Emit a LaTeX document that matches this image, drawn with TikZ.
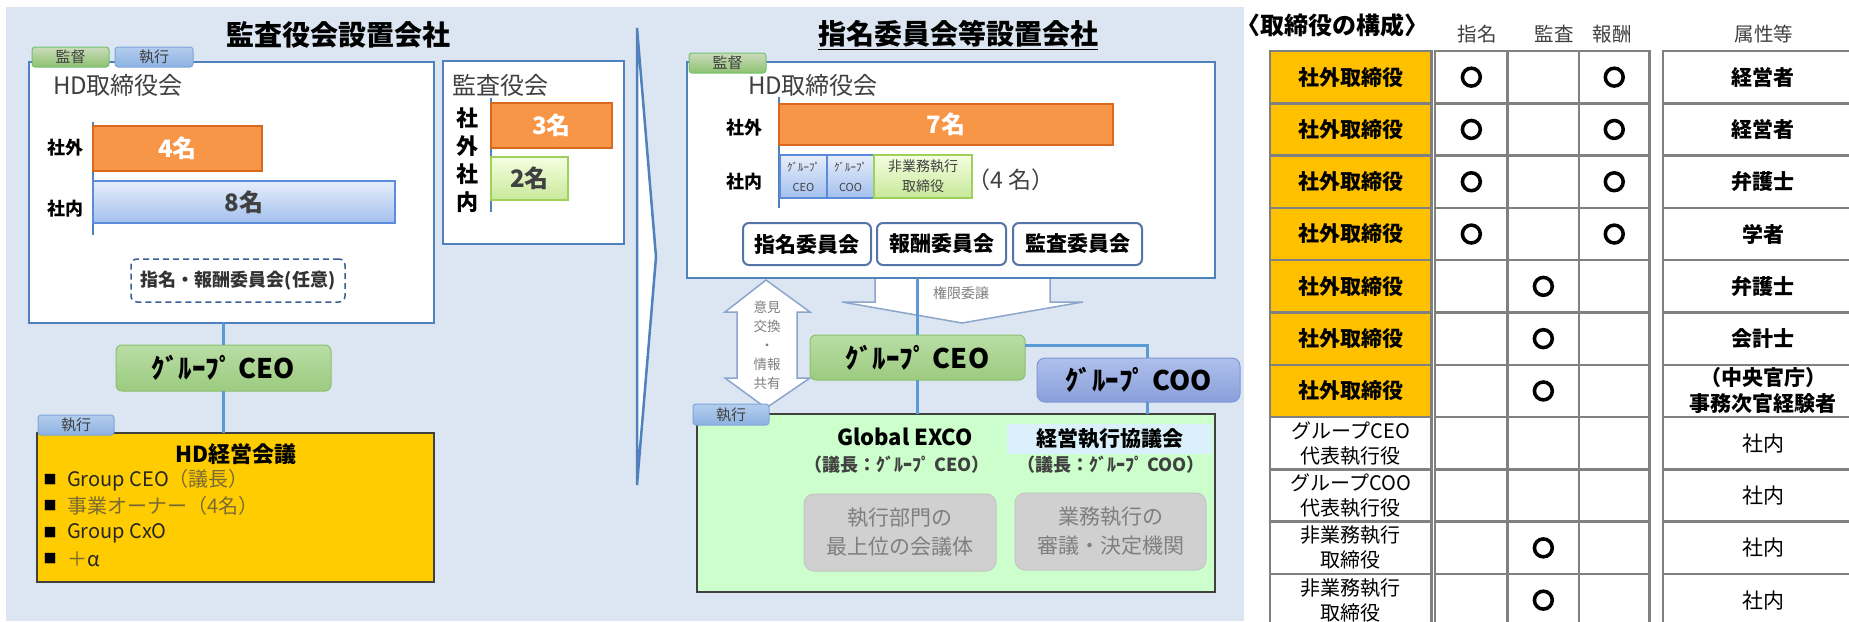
\documentclass[tikz,border=0pt]{standalone}
\usepackage{fontspec}
\setmainfont{Noto Sans CJK JP}
\usetikzlibrary{calc}
\definecolor{bgc}{HTML}{DCE6F2}
\definecolor{bblue}{HTML}{4F81BD}
\definecolor{lblue}{HTML}{5B9BD5}
\definecolor{dgray}{HTML}{404040}
\definecolor{mgray}{HTML}{7F7F7F}
\definecolor{tgray}{HTML}{808080}
\definecolor{orng}{HTML}{F79646}
\definecolor{orngd}{HTML}{D9691F}
\definecolor{kyel}{HTML}{FFCC00}
\definecolor{tyel}{HTML}{FFC000}
\definecolor{exg}{HTML}{CCFFCC}
\definecolor{hil}{HTML}{DAF1FB}
\definecolor{gboxc}{HTML}{D0D0D0}
\definecolor{gboxd}{HTML}{C4C4C4}
\definecolor{olivec}{HTML}{7A6A33}
\definecolor{arrc}{HTML}{8CA5CC}
\definecolor{cmtec}{HTML}{5473A8}
\definecolor{dashc}{HTML}{3A5F95}
\newcommand\fsz[2]{\fontsize{#1pt}{#2pt}\selectfont}
\newfontfamily\marufont[FakeBold=12]{Noto Sans CJK JP}
\newcommand\maru{{\fsz{21}{21}\marufont\bfseries ○}}
\begin{document}
\begin{tikzpicture}[x=1pt,y=-1pt,
  every node/.style={inner sep=0pt,outer sep=0pt},
  panel/.style={draw=bblue,line width=2.5pt,fill=white},
  gtab/.style={draw=green!40!gray!80,top color=green!30!lime!30!gray!40!white,bottom color={rgb,255:red,140;green,194;blue,111},rounded corners=3pt,line width=1pt,font=\fsz{15}{16},text=dgray},
  btab/.style={draw={rgb,255:red,125;green,165;blue,218},top color={rgb,255:red,180;green,205;blue,238},bottom color={rgb,255:red,140;green,178;blue,225},rounded corners=3pt,line width=1pt,font=\fsz{15}{16},text=dgray},
  conn/.style={draw=lblue,line width=3pt},
  axisline/.style={draw=bblue,line width=1.5pt},
  lbl/.style={font=\fsz{18}{20}\bfseries,text=black},
  obar/.style={fill=orng,draw=orngd,line width=1.2pt,text=white,font=\fsz{24}{26}\bfseries},
  bbar/.style={top color={rgb,255:red,230;green,238;blue,251},bottom color={rgb,255:red,163;green,192;blue,238},draw={rgb,255:red,91;green,139;blue,217},line width=1.2pt,text=dgray,font=\fsz{24}{26}\bfseries},
  gbar/.style={top color={rgb,255:red,244;green,255;blue,224},bottom color={rgb,255:red,200;green,232;blue,154},draw={rgb,255:red,159;green,208;blue,90},line width=1.2pt,text=dgray,font=\fsz{24}{26}\bfseries},
  ceo/.style={rounded corners=6pt,top color={rgb,255:red,185;green,221;blue,165},bottom color={rgb,255:red,156;green,203;blue,128},draw={rgb,255:red,140;green,192;blue,108},line width=1pt,font=\fsz{27}{28}\bfseries},
  coo/.style={rounded corners=8pt,top color={rgb,255:red,175;green,192;blue,236},bottom color={rgb,255:red,138;green,159;blue,218},draw={rgb,255:red,127;green,149;blue,214},line width=1pt,font=\fsz{27}{28}\bfseries},
  kaigi/.style={fill=kyel,draw=dgray,line width=2pt},
  exco/.style={fill=exg,draw=dgray,line width=2pt},
  cmte/.style={rounded corners=6pt,fill=white,draw=cmtec,line width=2pt,font=\fsz{21}{24}\bfseries},
  gb/.style={rounded corners=10pt,fill=gboxc,draw=gboxd,line width=1pt,text=mgray,font=\fsz{21}{29},align=center},
  dashbox/.style={draw=dashc,dashed,dash pattern=on 6pt off 4pt,line width=1.5pt,rounded corners=6pt,font=\fsz{18}{20}\bfseries,text=black!80},
  arrline/.style={draw=arrc,line width=1.5pt,line join=miter},
  cell/.style={draw=tgray,line width=2.5pt,fill=white,minimum height=52.3,anchor=north west},
  ylab/.style={cell,fill=tyel,font=\fsz{21}{24}\bfseries},
  wlab/.style={cell,font=\fsz{20}{25},align=center},
  yatt/.style={cell,font=\fsz{21}{26}\bfseries,align=center},
  watt/.style={cell,font=\fsz{21}{24}},
  seg/.style={font=\fsz{11}{20},align=center,text=dgray}
]
\useasboundingbox (0,0) rectangle (1849,621);
\clip (0,0) rectangle (1849,621);
\fill[white] (0,0) rectangle (1849,621);
\fill[bgc] (6,7) rectangle (1244,621);

% ---------------- left: kansayaku ----------------
\node[font=\fsz{28}{32}\bfseries] (t1) at (338,35) {監査役会設置会社};
\node[panel,anchor=north west,minimum width=405,minimum height=261] (hdL) at (29,62) {};
\node[gtab,anchor=north west,minimum width=77,minimum height=20] (tabL1) at (32,47) {監督};
\node[btab,anchor=north west,minimum width=78,minimum height=20] (tabL2) at (115,47) {執行};
\node[anchor=west,font=\fsz{24}{26},text=dgray] (hdLt) at (53,85) {HD取締役会};
\draw[axisline] (93,122) -- (93,235);
\node[lbl] (sgL) at (65,148) {社外};
\node[lbl] (snL) at (65,209) {社内};
\node[obar,anchor=north west,minimum width=169,minimum height=45] (b4) at (93,126) {4名};
\node[bbar,anchor=north west,minimum width=302,minimum height=42] (b8) at (93,181) {8名};
\node[dashbox,anchor=north west,minimum width=214,minimum height=43] (nin) at (131,259) {指名・報酬委員会(任意)};

\node[panel,anchor=north west,minimum width=181,minimum height=183] (kansa) at (443,61) {};
\node[anchor=west,font=\fsz{24}{26},text=dgray] (kansat) at (452,85) {監査役会};
\node[font=\fsz{22}{28}\bfseries,align=center] (kv) at (467,160) {社\\外\\社\\内};
\draw[axisline] (491,98) -- (491,212);
\node[obar,anchor=north west,minimum width=121,minimum height=45] (b3) at (491,103) {3名};
\node[gbar,anchor=north west,minimum width=77,minimum height=43] (b2) at (491,157) {2名};

\node[ceo,anchor=north west,minimum width=215,minimum height=46] (ceoL) at (116,345) {ｸﾞﾙｰﾌﾟ CEO};
\node[kaigi,anchor=north west,minimum width=397,minimum height=149] (kaigi) at (37,433) {};
\node[btab,anchor=north west,minimum width=76,minimum height=20] (tabL3) at (38,415) {執行};
\draw[conn] (hdL.south -| ceoL.north) -- (ceoL.north);
\draw[conn] (ceoL.south) -- (ceoL.south |- kaigi.north);
\node[font=\fsz{22}{24}\bfseries] (kt) at (236,454) {HD経営会議};
\node[font=\fsz{13}{14}] (s1) at (50,480) {■};
\node[font=\fsz{13}{14}] (s2) at (50,506) {■};
\node[font=\fsz{13}{14}] (s3) at (50,533) {■};
\node[font=\fsz{13}{14}] (s4) at (50,559) {■};
\node[anchor=west,font=\fsz{20}{22},text=black!85] (k1) at (67,480) {Group CEO\textcolor{olivec}{（議長）}};
\node[anchor=west,font=\fsz{20}{22},text=olivec] (k2) at (67,506) {事業オーナー（4名）};
\node[anchor=west,font=\fsz{20}{22},text=black!85] (k3) at (67,533) {Group CxO};
\node[anchor=west,font=\fsz{20}{22},text=black!85] (k4) at (67,559) {\textcolor{olivec}{＋}α};

% ---------------- chevron ----------------
\draw[draw=bblue,line width=2.5pt,fill=white,line join=miter] (637,28) -- (656,257) -- (637,485) -- cycle;

% ---------------- right: iinkai ----------------
\node[font=\fsz{28}{32}\bfseries] (t2) at (958,35) {\underline{指名委員会等設置会社}};

\fill[white] (875,278) -- (875,302) -- (842,302) -- (962,323) -- (1083,302) -- (1050,302) -- (1050,278) -- cycle;
\draw[arrline] (875,278) -- (875,302) -- (842,302) -- (962,323) -- (1083,302) -- (1050,302) -- (1050,278);
\draw[arrline,fill=white] (766,280) -- (810,312) -- (797,312) -- (797,378) -- (810,378) -- (766,408) -- (725,378) -- (737,378) -- (737,312) -- (725,312) -- cycle;

\node[panel,anchor=north west,minimum width=528,minimum height=216] (hdR) at (687,62) {};
\node[gtab,anchor=north west,minimum width=77,minimum height=20] (tabR1) at (689,53) {監督};
\node[anchor=west,font=\fsz{24}{26},text=dgray] (hdRt) at (748,85) {HD取締役会};
\draw[axisline] (779,97) -- (779,208);
\node[lbl] (sgR) at (744,128) {社外};
\node[lbl] (snR) at (744,182) {社内};
\node[obar,anchor=north west,minimum width=334,minimum height=41] (b7) at (779,104) {7名};
\node[bbar,seg,anchor=north west,minimum width=47,minimum height=43] (sgC) at (780,155) {ｸﾞﾙｰﾌﾟ\\CEO};
\node[bbar,seg,anchor=north west,minimum width=47,minimum height=43] (sgO) at (827,155) {ｸﾞﾙｰﾌﾟ\\COO};
\node[gbar,seg,font=\fsz{14}{20},anchor=north west,minimum width=98,minimum height=43] (sgN) at (874,155) {非業務執行\\取締役};
\node[font=\fsz{23}{24},text=dgray] (n4) at (1011,180) {（4 名）};
\node[cmte,anchor=north west,minimum width=128,minimum height=42] (cm1) at (743,223) {指名委員会};
\node[cmte,anchor=north west,minimum width=129,minimum height=42] (cm2) at (877,223) {報酬委員会};
\node[cmte,anchor=north west,minimum width=129,minimum height=42] (cm3) at (1013,223) {監査委員会};

\node[font=\fsz{14}{16},text=mgray] (kg) at (961,293) {権限委譲};
\node[font=\fsz{13.5}{19},text=mgray,align=center] (iken) at (767,345) {意見\\交換\\・\\情報\\共有};

\node[exco,anchor=north west,minimum width=518,minimum height=178] (exco) at (697,414) {};
\node[btab,anchor=north west,minimum width=76,minimum height=21] (tabR2) at (693,404) {執行};
\node[ceo,anchor=north west,minimum width=215,minimum height=45] (ceoR) at (810,335) {ｸﾞﾙｰﾌﾟ CEO};
\node[coo,anchor=north west,minimum width=203,minimum height=44] (cooR) at (1037,358) {ｸﾞﾙｰﾌﾟ COO};
\coordinate (j1) at (1147,345);
\draw[conn] (hdR.south -| ceoR.north) -- (ceoR.north);
\draw[conn] (ceoR.south) -- (ceoR.south |- exco.north);
\draw[conn] (ceoR.east |- j1) -- (j1) -- (j1 |- cooR.north);
\draw[conn] (cooR.south -| j1) -- (j1 |- exco.north);

\node[font=\fsz{22}{24}\bfseries] (gx) at (905,437) {Global EXCO};
\node[font=\fsz{18}{20}\bfseries,text=dgray] (gx2) at (897,465) {（議長：ｸﾞﾙｰﾌﾟ CEO）};
\node[fill=hil,anchor=north west,minimum width=205,minimum height=30,font=\fsz{21}{24}\bfseries] (kk) at (1007,424) {経営執行協議会};
\node[font=\fsz{18}{20}\bfseries,text=dgray] (kk2) at (1111,465) {（議長：ｸﾞﾙｰﾌﾟ COO）};
\node[gb,anchor=north west,minimum width=192,minimum height=77] (gb1) at (804,494) {執行部門の\\最上位の会議体};
\node[gb,anchor=north west,minimum width=191,minimum height=77] (gb2) at (1015,493) {業務執行の\\審議・決定機関};

% ---------------- table ----------------
\node[anchor=west,font=\fsz{24}{28}\bfseries] (th) at (1236,25) {〈取締役の構成〉};
\node[font=\fsz{19.5}{22},text=dgray] (h1) at (1477,34) {指名};
\node[font=\fsz{19.5}{22},text=dgray] (h2) at (1554,34) {監査};
\node[font=\fsz{19.5}{22},text=dgray] (h3) at (1612,34) {報酬};
\node[font=\fsz{19.5}{22},text=dgray] (h4) at (1764,34) {属性等};

\newcommand\trow[8]{%
  \pgfmathsetmacro\ty{51+52.3*#1}%
  \node[#2,minimum width=161.5] (l#1) at (1270,\ty) {#3};
  \node[cell,minimum width=72.7] (a#1) at (1435,\ty) {#4};
  \node[cell,minimum width=71.3] (b#1) at (1507.7,\ty) {#5};
  \node[cell,minimum width=70.5] (c#1) at (1579,\ty) {#6};
  \node[#7,minimum width=200] (d#1) at (1663,\ty) {#8};
}
\trow{0}{ylab}{社外取締役}{\maru}{}{\maru}{yatt}{経営者}
\trow{1}{ylab}{社外取締役}{\maru}{}{\maru}{yatt}{経営者}
\trow{2}{ylab}{社外取締役}{\maru}{}{\maru}{yatt}{弁護士}
\trow{3}{ylab}{社外取締役}{\maru}{}{\maru}{yatt}{学者}
\trow{4}{ylab}{社外取締役}{}{\maru}{}{yatt}{弁護士}
\trow{5}{ylab}{社外取締役}{}{\maru}{}{yatt}{会計士}
\trow{6}{ylab}{社外取締役}{}{\maru}{}{yatt}{（中央官庁）\\事務次官経験者}
\trow{7}{wlab}{グループCEO\\代表執行役}{}{}{}{watt}{社内}
\trow{8}{wlab}{グループCOO\\代表執行役}{}{}{}{watt}{社内}
\trow{9}{wlab}{非業務執行\\取締役}{}{\maru}{}{watt}{社内}
\trow{10}{wlab}{非業務執行\\取締役}{}{\maru}{}{watt}{社内}
\end{tikzpicture}
\end{document}
